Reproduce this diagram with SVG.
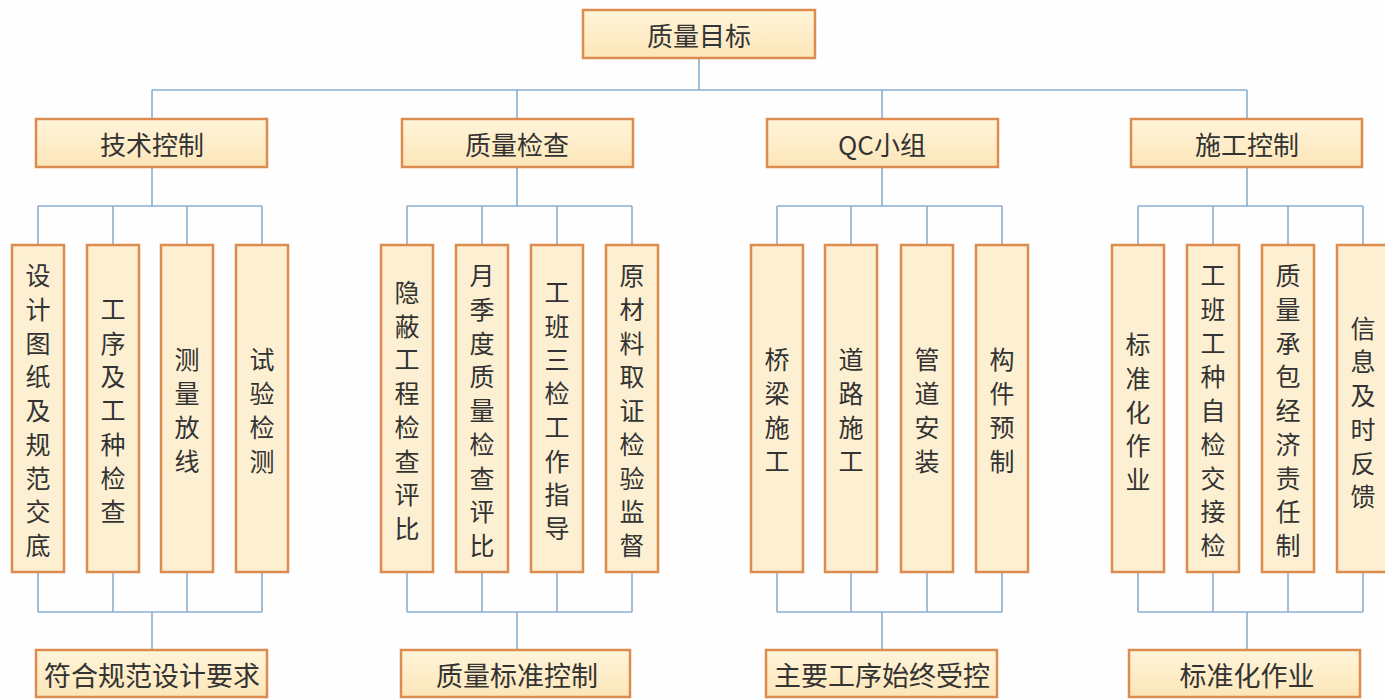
<svg xmlns="http://www.w3.org/2000/svg" width="1385" height="700" viewBox="0 0 1385 700">
<defs>
<linearGradient id="g" x1="0" y1="0" x2="0" y2="1">
<stop offset="0" stop-color="#FFF4DA"/>
<stop offset="1" stop-color="#FCE6B8"/>
</linearGradient>
<style>
.box{fill:url(#g);stroke:#DB8C4E;stroke-width:2.5}
.leaf{fill:#FDF0D2;stroke:#DB8C4E;stroke-width:2.5}
.t{font-family:"Noto Sans CJK SC","Noto Sans",sans-serif;font-size:25px;fill:#333;text-anchor:middle;dominant-baseline:central}
.tb{font-family:"Noto Sans CJK SC","Noto Sans",sans-serif;font-size:26px;fill:#333;text-anchor:middle;dominant-baseline:central}
.bt{font-size:27px}
.c{fill:none;stroke:#8AAECF;stroke-width:1.6}
</style>
</defs>
<rect width="1385" height="700" fill="#FEFEFE"/>
<g id="connectors" class="c">
<path d="M699 58V90M152 90H1247M152 90V119M517 90V119M882 90V119M1247 90V119"/>
<path d="M152 167V206M38 206H262M38 206V245M113 206V245M187 206V245M262 206V245"/>
<path d="M517 167V206M407 206H632M407 206V245M482 206V245M557 206V245M632 206V245"/>
<path d="M882 167V206M777 206H1002M777 206V245M851 206V245M927 206V245M1002 206V245"/>
<path d="M1247 167V206M1138 206H1363M1138 206V245M1213 206V245M1288 206V245M1363 206V245"/>
<path d="M38 572V612M113 572V612M187 572V612M262 572V612M38 612H262M152 612V650"/>
<path d="M407 572V612M482 572V612M557 572V612M632 572V612M407 612H632M517 612V650"/>
<path d="M777 572V612M851 572V612M927 572V612M1002 572V612M777 612H1002M882 612V650"/>
<path d="M1138 572V612M1213 572V612M1288 572V612M1363 572V612M1138 612H1363M1247 612V650"/>
</g>
<g id="root"><rect class="box" x="583" y="10" width="232" height="48"/><text class="tb" x="699" y="34">质量目标</text></g>
<g id="n1"><rect class="box" x="36" y="119" width="231" height="48"/><text class="tb" x="152" y="143">技术控制</text></g>
<g id="n2"><rect class="box" x="402" y="119" width="231" height="48"/><text class="tb" x="517" y="143">质量检查</text></g>
<g id="n3"><rect class="box" x="767" y="119" width="231" height="48"/><text class="tb" x="882" y="143">QC小组</text></g>
<g id="n4"><rect class="box" x="1131" y="119" width="231" height="48"/><text class="tb" x="1247" y="143">施工控制</text></g>

<g id="l11"><rect class="leaf" x="12" y="245" width="52" height="327"/><text class="t"><tspan x="38" y="274">设</tspan><tspan x="38" y="307.8">计</tspan><tspan x="38" y="341.5">图</tspan><tspan x="38" y="375.3">纸</tspan><tspan x="38" y="409">及</tspan><tspan x="38" y="442.8">规</tspan><tspan x="38" y="476.5">范</tspan><tspan x="38" y="510.3">交</tspan><tspan x="38" y="544">底</tspan></text></g>
<g id="l12"><rect class="leaf" x="87" y="245" width="52" height="327"/><text class="t"><tspan x="113" y="307.8">工</tspan><tspan x="113" y="341.5">序</tspan><tspan x="113" y="375.3">及</tspan><tspan x="113" y="409">工</tspan><tspan x="113" y="442.8">种</tspan><tspan x="113" y="476.5">检</tspan><tspan x="113" y="510.3">查</tspan></text></g>
<g id="l13"><rect class="leaf" x="161" y="245" width="52" height="327"/><text class="t"><tspan x="187" y="358.4">测</tspan><tspan x="187" y="392.1">量</tspan><tspan x="187" y="425.9">放</tspan><tspan x="187" y="459.6">线</tspan></text></g>
<g id="l14"><rect class="leaf" x="236" y="245" width="52" height="327"/><text class="t"><tspan x="262" y="358.4">试</tspan><tspan x="262" y="392.1">验</tspan><tspan x="262" y="425.9">检</tspan><tspan x="262" y="459.6">测</tspan></text></g>

<g id="l21"><rect class="leaf" x="381" y="245" width="52" height="327"/><text class="t"><tspan x="407" y="290.9">隐</tspan><tspan x="407" y="324.6">蔽</tspan><tspan x="407" y="358.4">工</tspan><tspan x="407" y="392.1">程</tspan><tspan x="407" y="425.9">检</tspan><tspan x="407" y="459.6">查</tspan><tspan x="407" y="493.4">评</tspan><tspan x="407" y="527.1">比</tspan></text></g>
<g id="l22"><rect class="leaf" x="456" y="245" width="52" height="327"/><text class="t"><tspan x="482" y="274">月</tspan><tspan x="482" y="307.8">季</tspan><tspan x="482" y="341.5">度</tspan><tspan x="482" y="375.3">质</tspan><tspan x="482" y="409">量</tspan><tspan x="482" y="442.8">检</tspan><tspan x="482" y="476.5">查</tspan><tspan x="482" y="510.3">评</tspan><tspan x="482" y="544">比</tspan></text></g>
<g id="l23"><rect class="leaf" x="531" y="245" width="52" height="327"/><text class="t"><tspan x="557" y="290.9">工</tspan><tspan x="557" y="324.6">班</tspan><tspan x="557" y="358.4">三</tspan><tspan x="557" y="392.1">检</tspan><tspan x="557" y="425.9">工</tspan><tspan x="557" y="459.6">作</tspan><tspan x="557" y="493.4">指</tspan><tspan x="557" y="527.1">导</tspan></text></g>
<g id="l24"><rect class="leaf" x="606" y="245" width="52" height="327"/><text class="t"><tspan x="632" y="274">原</tspan><tspan x="632" y="307.8">材</tspan><tspan x="632" y="341.5">料</tspan><tspan x="632" y="375.3">取</tspan><tspan x="632" y="409">证</tspan><tspan x="632" y="442.8">检</tspan><tspan x="632" y="476.5">验</tspan><tspan x="632" y="510.3">监</tspan><tspan x="632" y="544">督</tspan></text></g>

<g id="l31"><rect class="leaf" x="751" y="245" width="52" height="327"/><text class="t"><tspan x="777" y="358.4">桥</tspan><tspan x="777" y="392.1">梁</tspan><tspan x="777" y="425.9">施</tspan><tspan x="777" y="459.6">工</tspan></text></g>
<g id="l32"><rect class="leaf" x="825" y="245" width="52" height="327"/><text class="t"><tspan x="851" y="358.4">道</tspan><tspan x="851" y="392.1">路</tspan><tspan x="851" y="425.9">施</tspan><tspan x="851" y="459.6">工</tspan></text></g>
<g id="l33"><rect class="leaf" x="901" y="245" width="52" height="327"/><text class="t"><tspan x="927" y="358.4">管</tspan><tspan x="927" y="392.1">道</tspan><tspan x="927" y="425.9">安</tspan><tspan x="927" y="459.6">装</tspan></text></g>
<g id="l34"><rect class="leaf" x="976" y="245" width="52" height="327"/><text class="t"><tspan x="1002" y="358.4">构</tspan><tspan x="1002" y="392.1">件</tspan><tspan x="1002" y="425.9">预</tspan><tspan x="1002" y="459.6">制</tspan></text></g>

<g id="l41"><rect class="leaf" x="1112" y="245" width="52" height="327"/><text class="t"><tspan x="1138" y="343">标</tspan><tspan x="1138" y="376.8">准</tspan><tspan x="1138" y="410.5">化</tspan><tspan x="1138" y="444.3">作</tspan><tspan x="1138" y="478">业</tspan></text></g>
<g id="l42"><rect class="leaf" x="1187" y="245" width="52" height="327"/><text class="t"><tspan x="1213" y="274">工</tspan><tspan x="1213" y="307.8">班</tspan><tspan x="1213" y="341.5">工</tspan><tspan x="1213" y="375.3">种</tspan><tspan x="1213" y="409">自</tspan><tspan x="1213" y="442.8">检</tspan><tspan x="1213" y="476.5">交</tspan><tspan x="1213" y="510.3">接</tspan><tspan x="1213" y="544">检</tspan></text></g>
<g id="l43"><rect class="leaf" x="1262" y="245" width="52" height="327"/><text class="t"><tspan x="1288" y="274">质</tspan><tspan x="1288" y="307.8">量</tspan><tspan x="1288" y="341.5">承</tspan><tspan x="1288" y="375.3">包</tspan><tspan x="1288" y="409">经</tspan><tspan x="1288" y="442.8">济</tspan><tspan x="1288" y="476.5">责</tspan><tspan x="1288" y="510.3">任</tspan><tspan x="1288" y="544">制</tspan></text></g>
<g id="l44"><rect class="leaf" x="1337" y="245" width="52" height="327"/><text class="t"><tspan x="1363" y="326.6">信</tspan><tspan x="1363" y="360.4">息</tspan><tspan x="1363" y="394.1">及</tspan><tspan x="1363" y="427.9">时</tspan><tspan x="1363" y="461.6">反</tspan><tspan x="1363" y="495.4">馈</tspan></text></g>

<g id="b1"><rect class="box" x="36" y="650" width="231" height="47"/><text class="tb bt" x="152" y="674">符合规范设计要求</text></g>
<g id="b2"><rect class="box" x="401" y="650" width="229" height="47"/><text class="tb bt" x="517" y="674">质量标准控制</text></g>
<g id="b3"><rect class="box" x="766" y="650" width="231" height="47"/><text class="tb bt" x="882" y="674">主要工序始终受控</text></g>
<g id="b4"><rect class="box" x="1129" y="650" width="231" height="47"/><text class="tb bt" x="1247" y="674">标准化作业</text></g>
</svg>
